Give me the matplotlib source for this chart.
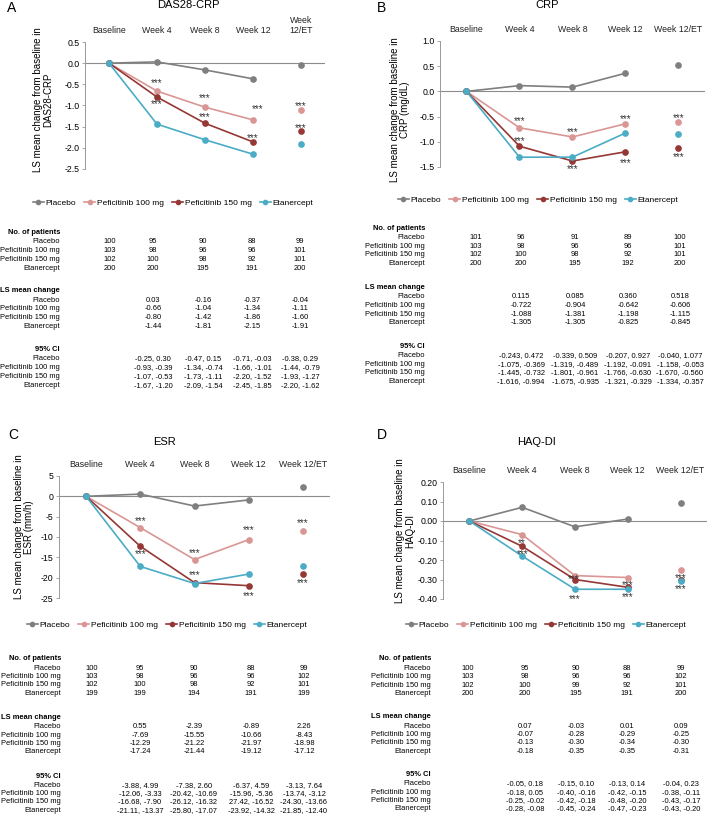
import numpy as np
import matplotlib
matplotlib.use('Agg')
import matplotlib.pyplot as plt
from matplotlib.ticker import FormatStrFormatter, MultipleLocator

plt.rcParams['font.family'] = ['Liberation Sans', 'DejaVu Sans']

W, H = 707, 815

groups = ['Placebo', 'Peficitinib 100 mg', 'Peficitinib 150 mg', 'Etanercept']
colors = ['#7f7f7f', '#d99694', '#953735', '#4bacc6']
timepoints = ['Baseline', 'Week 4', 'Week 8', 'Week 12', 'Week 12/ET']

# DAS28-CRP
das_n = [[100, 95, 90, 88, 99], [103, 98, 96, 96, 101],
         [102, 100, 98, 92, 101], [200, 200, 195, 191, 200]]
das_ls = [[0.03, -0.16, -0.37, -0.04], [-0.66, -1.04, -1.34, -1.11],
          [-0.80, -1.42, -1.86, -1.60], [-1.44, -1.81, -2.15, -1.91]]
das_ci = [[(-0.25, 0.30), (-0.47, 0.15), (-0.71, -0.03), (-0.38, 0.29)],
          [(-0.93, -0.39), (-1.34, -0.74), (-1.66, -1.01), (-1.44, -0.79)],
          [(-1.07, -0.53), (-1.73, -1.11), (-2.20, -1.52), (-1.93, -1.27)],
          [(-1.67, -1.20), (-2.09, -1.54), (-2.45, -1.85), (-2.20, -1.62)]]

# CRP
crp_n = [[101, 96, 91, 89, 100], [103, 98, 96, 96, 101],
         [102, 100, 98, 92, 101], [200, 200, 195, 192, 200]]
crp_ls = [[0.115, 0.085, 0.360, 0.518], [-0.722, -0.904, -0.642, -0.606],
          [-1.088, -1.381, -1.198, -1.115], [-1.305, -1.305, -0.825, -0.845]]
crp_ci = [[(-0.243, 0.472), (-0.339, 0.509), (-0.207, 0.927), (-0.040, 1.077)],
          [(-1.075, -0.369), (-1.319, -0.489), (-1.192, -0.091), (-1.158, -0.053)],
          [(-1.445, -0.732), (-1.801, -0.961), (-1.766, -0.630), (-1.670, -0.560)],
          [(-1.616, -0.994), (-1.675, -0.935), (-1.321, -0.329), (-1.334, -0.357)]]

# ESR
esr_n = [[100, 95, 90, 88, 99], [103, 98, 96, 96, 102],
         [102, 100, 98, 92, 101], [199, 199, 194, 191, 199]]
esr_ls = [[0.55, -2.39, -0.89, 2.26], [-7.69, -15.55, -10.66, -8.43],
          [-12.29, -21.22, -21.97, -18.98], [-17.24, -21.44, -19.12, -17.12]]
esr_ci = [[(-3.88, 4.99), (-7.38, 2.60), (-6.37, 4.59), (-3.13, 7.64)],
          [(-12.06, -3.33), (-20.42, -10.69), (-15.96, -5.36), (-13.74, -3.12)],
          [(-16.68, -7.90), (-26.12, -16.32), (27.42, -16.52), (-24.30, -13.66)],
          [(-21.11, -13.37), (-25.80, -17.07), (-23.92, -14.32), (-21.85, -12.40)]]

# HAQ-DI
haq_n = [[100, 95, 90, 88, 99], [103, 98, 96, 96, 102],
         [102, 100, 99, 92, 101], [200, 200, 195, 191, 200]]
haq_ls = [[0.07, -0.03, 0.01, 0.09], [-0.07, -0.28, -0.29, -0.25],
          [-0.13, -0.30, -0.34, -0.30], [-0.18, -0.35, -0.35, -0.31]]
haq_ci = [[(-0.05, 0.18), (-0.15, 0.10), (-0.13, 0.14), (-0.04, 0.23)],
          [(-0.18, 0.05), (-0.40, -0.16), (-0.42, -0.15), (-0.38, -0.11)],
          [(-0.25, -0.02), (-0.42, -0.18), (-0.48, -0.20), (-0.43, -0.17)],
          [(-0.28, -0.08), (-0.45, -0.24), (-0.47, -0.23), (-0.43, -0.20)]]

# significance marks: (timepoint, group, dx px, dy px, text)
das_stars = [(1, 1, 0, 11, '***'), (1, 2, 0, -4, '***'), (2, 1, 0, 12, '***'), (2, 2, 0, 9, '***'),
             (3, 1, 5, 14, '***'), (3, 2, 0, 7, '***'), (4, 1, 0, 7, '***'), (4, 2, 0, 6, '***')]
crp_stars = [(1, 1, 0, 10, '***'), (1, 2, 0, 8, '***'), (2, 1, 0, 8, '***'), (2, 2, 0, -5, '***'),
             (3, 1, 0, 8, '***'), (3, 2, 0, -8, '***'), (4, 1, 0, 7, '***'), (4, 2, 0, -6, '***')]
esr_stars = [(1, 1, 0, 10, '***'), (1, 2, 0, -5, '***'), (2, 1, 0, 9, '***'), (2, 2, 0, 11, '***'),
             (3, 1, 0, 13, '***'), (3, 2, 0, -7, '***'), (4, 1, 0, 11, '***'), (4, 2, 0, -7, '***')]
haq_stars = [(1, 2, 0, 6, '**'), (1, 2, 0, -5, '***'), (2, 2, -1, 3, '***'), (2, 3, 0, -7, '***'),
             (3, 2, 0, 5, '***'), (3, 3, 0, -5, '***'), (4, 2, 0, 4, '***'), (4, 3, 0, -5, '***')]

panels = [
    dict(letter='A', title='DAS28-CRP', ylabel='LS mean change from baseline in\nDAS28-CRP',
         n=das_n, ls=das_ls, ci=das_ci, dec=2, stars=das_stars,
         ylim=(-2.5, 0.5), ystep=0.5, yfmt='%.1f', last='Week\n12/ET',
         box=(85, 42, 325, 169), letter_xy=(12, 8), title_xy=(188, 5), ylab_xy=(43, 100),
         leg_xy=(173, 203), hdr_x=60, cols=[110, 153, 203, 252, 300], top=232.3, sp=8.9, gap=58.5),
    dict(letter='B', title='CRP', ylabel='LS mean change from baseline in\nCRP (mg/dL)',
         n=crp_n, ls=crp_ls, ci=crp_ci, dec=3, stars=crp_stars,
         ylim=(-1.5, 1.0), ystep=0.5, yfmt='%.1f', last='Week 12/ET',
         box=(440, 41, 705, 167), letter_xy=(382, 8), title_xy=(547, 5), ylab_xy=(400, 110),
         leg_xy=(538, 200), hdr_x=425, cols=[476, 521, 575, 628, 680], top=228.3, sp=8.7, gap=59),
    dict(letter='C', title='ESR', ylabel='LS mean change from baseline in\nESR (mm/h)',
         n=esr_n, ls=esr_ls, ci=esr_ci, dec=2, stars=esr_stars,
         ylim=(-25, 5), ystep=5, yfmt='%d', last='Week 12/ET',
         box=(59, 476, 330, 598), letter_xy=(13, 435), title_xy=(165, 442), ylab_xy=(24, 527),
         leg_xy=(167, 625), hdr_x=61, cols=[92, 140, 194, 251, 304], top=659, sp=8.3, gap=58.5),
    dict(letter='D', title='HAQ-DI', ylabel='LS mean change from baseline in\nHAQ-DI',
         n=haq_n, ls=haq_ls, ci=haq_ci, dec=2, stars=haq_stars,
         ylim=(-0.4, 0.2), ystep=0.1, yfmt='%.2f', last='Week 12/ET',
         box=(443, 482, 707, 599), letter_xy=(382, 435), title_xy=(536, 442), ylab_xy=(405, 531),
         leg_xy=(546, 625), hdr_x=431, cols=[468, 525, 576, 627, 681], top=659, sp=8.4, gap=57.7),
]

fig = plt.figure(figsize=(W / 100, H / 100), dpi=100)


def ftext(x, y, s, **kw):
    return fig.text(x / W, 1 - y / H, s, **kw)


for p in panels:
    l, t, r, b = p['box']
    ax = fig.add_axes([l / W, 1 - b / H, (r - l) / W, (b - t) / H])
    x = np.arange(4)
    handles = []
    for g in range(4):
        y = [0] + p['ls'][g][:3]
        h, = ax.plot(x, y, '-o', color=colors[g], lw=1.2, ms=3.8, label=groups[g], zorder=3 + g)
        ax.plot(4, p['ls'][g][3], 'o', color=colors[g], ms=3.8, zorder=3 + g)
        handles.append(h)
    ax.axhline(0, color='#8c8c8c', lw=0.8, zorder=1)
    ax.set_xlim(-0.5, 4.5)
    ax.set_ylim(*p['ylim'])
    ax.yaxis.set_major_locator(MultipleLocator(p['ystep']))
    ax.yaxis.set_major_formatter(FormatStrFormatter(p['yfmt']))
    for s in ['top', 'right', 'bottom']:
        ax.spines[s].set_visible(False)
    ax.spines['left'].set_color('#999999')
    ax.spines['left'].set_linewidth(0.7)
    ax.tick_params(axis='y', length=2, width=0.6, color='#999999', labelsize=6.3, pad=2)
    ax.set_xticks([])
    ax.patch.set_alpha(0)

    labels = timepoints[:4] + [p['last']]
    for i, lab in enumerate(labels):
        ax.annotate(lab, xy=(i, 1), xycoords=ax.get_xaxis_transform(), xytext=(0, 5),
                    textcoords='offset points', ha='center', va='bottom', fontsize=6.3,
                    color='#222222')

    for (i, g, dx, dy, s) in p['stars']:
        ax.annotate(s, xy=(i, p['ls'][g][i - 1]), xytext=(dx * 0.72, (dy - 3) * 0.72),
                    textcoords='offset points', ha='center', va='center', fontsize=7,
                    color='#333333', zorder=10)

    ftext(*p['letter_xy'], p['letter'], fontsize=10, ha='center', va='center')
    ftext(*p['title_xy'], p['title'], fontsize=8, ha='center', va='center')
    ftext(*p['ylab_xy'], p['ylabel'], fontsize=7, ha='center', va='center', rotation=90,
          multialignment='center', linespacing=1.05)

    lx, ly = p['leg_xy']
    fig.legend(handles, groups, loc='center', bbox_to_anchor=(lx / W, 1 - ly / H), ncol=4,
               frameon=False, fontsize=6, handlelength=1.3, handletextpad=0.2,
               columnspacing=1.0, markerscale=0.8)

    # table below the chart
    cols = p['cols']
    dec = p['dec']
    sections = [
        ('No. of patients', [[str(v) for v in row] for row in p['n']], cols),
        ('LS mean change', [[f'{v:.{dec}f}' for v in row] for row in p['ls']], cols[1:]),
        ('95% CI', [[f'{a:.{dec}f}, {c:.{dec}f}' for a, c in row] for row in p['ci']], cols[1:]),
    ]
    for k, (hdr, rows, cx) in enumerate(sections):
        y0 = p['top'] + k * p['gap']
        ftext(p['hdr_x'], y0, hdr, fontsize=5.4, ha='right', va='center', fontweight='bold')
        for g in range(4):
            yy = y0 + 9.3 + g * p['sp']
            ftext(p['hdr_x'], yy, groups[g], fontsize=5.4, ha='right', va='center')
            for xc, s in zip(cx, rows[g]):
                ftext(xc, yy, s, fontsize=5.4, ha='center', va='center')

fig.savefig('out.png', dpi=100)
